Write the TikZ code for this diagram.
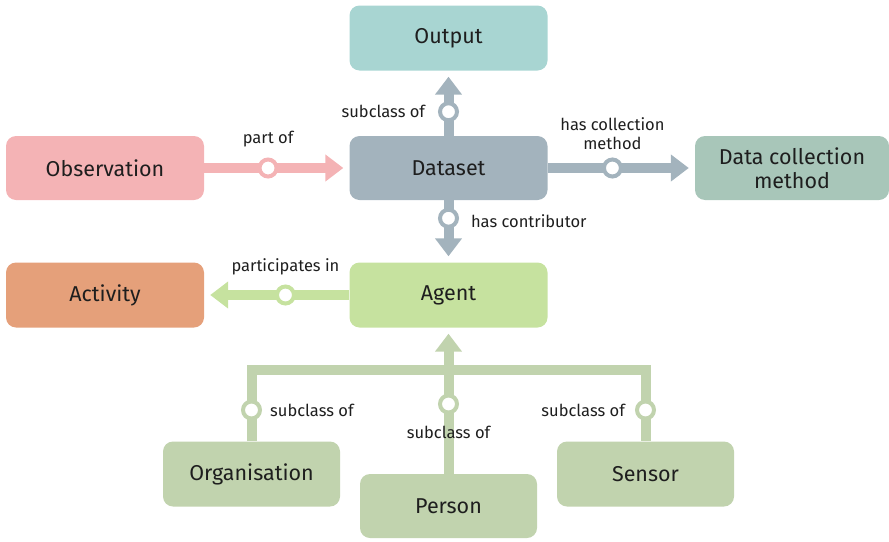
\documentclass[tikz,border=0pt]{standalone}
\usepackage{fontspec}
\setmainfont{Fira Sans}
\usetikzlibrary{arrows.meta}
\definecolor{txt}{HTML}{1E1E1E}
\definecolor{cOut}{HTML}{A8D5D2}
\definecolor{cObs}{HTML}{F4B3B5}
\definecolor{cData}{HTML}{A3B3BD}
\definecolor{cDcm}{HTML}{A8C6B9}
\definecolor{cAct}{HTML}{E5A07A}
\definecolor{cAgent}{HTML}{C6E29F}
\definecolor{cSub}{HTML}{C1D3AE}
\begin{document}
\begin{tikzpicture}[x=1pt,y=-1pt,
  box/.style={rounded corners=10pt, minimum width=198pt, minimum height=65pt,
    inner sep=0pt, font=\fontsize{21.5}{24}\selectfont, text=txt, align=center},
  subbox/.style={box, fill=cSub, minimum width=177pt},
  conn/.style={line width=10pt, -{Triangle[width=26pt,length=18pt]}, shorten >=6pt},
  ring/.style={circle, draw=#1, fill=white, line width=4pt, minimum size=17pt, inner sep=0pt},
  lbl/.style={font=\fontsize{16.5}{19}\selectfont, text=txt, inner sep=1pt}]
\useasboundingbox (0,0) rectangle (889,541);

\node[box, fill=cOut] (output) at (448.5,38) {Output};
\node[box, fill=cData, minimum height=64pt] (dataset) at (448.5,168) {Dataset};
\node[box, fill=cObs, minimum height=64pt] (obs) at (105,168) {Observation};
\node[box, fill=cDcm, minimum width=194pt, minimum height=64pt] (dcm) at (792,168) {Data collection\\method};
\node[box, fill=cAct] (activity) at (105,295) {Activity};
\node[box, fill=cAgent] (agent) at (448.5,295) {Agent};
\node[subbox] (org) at (251.5,474) {Organisation};
\node[subbox, minimum height=64pt] (person) at (448.5,506) {Person};
\node[subbox] (sensor) at (645.5,474) {Sensor};

% Dataset -> Output
\draw[conn, color=cData] (dataset.north) -- node[ring=cData, pos=.37,
  label={[lbl, label distance=7pt]left:subclass of}] {} (output.south);
% Observation -> Dataset
\draw[conn, color=cObs] (obs.east) -- node[ring=cObs, pos=.44,
  label={[lbl, label distance=4pt]above:part of}] {} (dataset.west);
% Dataset -> Data collection method
\draw[conn, color=cData] (dataset.east) -- node[ring=cData, pos=.44,
  label={[lbl, align=center, label distance=2pt]above:has collection\\method}] {} (dcm.west);
% Dataset -> Agent
\draw[conn, color=cData] (dataset.south) -- node[ring=cData, pos=.29,
  label={[lbl, label distance=6pt, yshift=-3pt]right:has contributor}] {} (agent.north);
% Agent -> Activity
\draw[conn, color=cAgent] (agent.west) -- node[ring=cAgent, pos=.44,
  label={[lbl, label distance=3pt]above:participates in}] {} (activity.east);

% subclass tree
\coordinate (jn) at (448.5,370);
\draw[line width=10pt, color=cSub, line join=miter] (org.north) |- (jn) -| (sensor.north);
\draw[conn, color=cSub] (person.north) -- (agent.south);
\node[ring=cSub, label={[lbl, label distance=7pt]right:subclass of}] (r1) at (org.north |- 0,410) {};
\node[ring=cSub, label={[lbl, label distance=10pt]below:subclass of}] (r2) at (person.north |- 0,404) {};
\node[ring=cSub, label={[lbl, label distance=9pt]left:subclass of}] (r3) at (sensor.north |- 0,410) {};
\end{tikzpicture}
\end{document}
